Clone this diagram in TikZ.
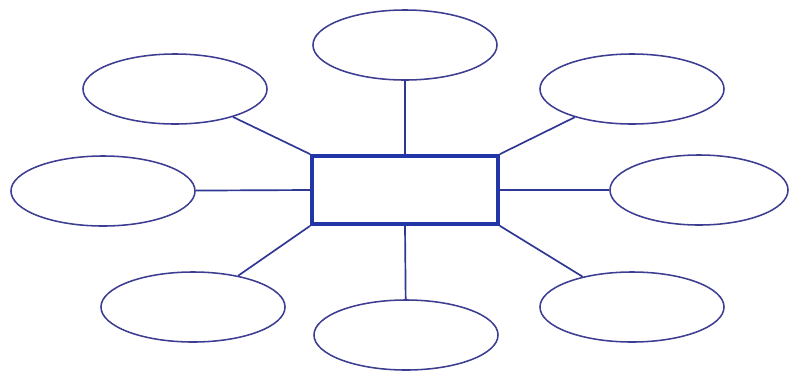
\documentclass[tikz,border=0pt]{standalone}
\usepackage{xcolor}
\usepackage{tikz}
\usetikzlibrary{shapes.geometric, positioning}
\definecolor{hubblue}{HTML}{2236A8}
\definecolor{ringblue}{HTML}{3D3D92}
\definecolor{spokeblue}{HTML}{2E3894}

\begin{document}
\begin{tikzpicture}[
  x=0.025cm, y=-0.025cm,
  hub/.style={rectangle, draw=hubblue, line width=2.6pt, fill=white,
              minimum width=4.65cm, minimum height=1.7cm, inner sep=0pt},
  leaf/.style={ellipse, draw=ringblue, line width=1.1pt, fill=white,
               minimum width=4.6cm, minimum height=1.75cm, inner sep=0pt},
  spoke/.style={draw=spokeblue, line width=1.2pt},
]
\useasboundingbox (0,0) rectangle (789,370);
\node[hub]  (centre) at (405,190) {};
\node[leaf] (top)    at (405,45)  {};
\node[leaf] (upleft) at (175,89)  {};
\node[leaf] (upright) at (632,89) {};
\node[leaf] (left)   at (103,191) {};
\node[leaf, minimum width=4.45cm] (right) at (699,190) {};
\node[leaf] (lowleft) at (193,307) {};
\node[leaf] (bottom) at (406,335) {};
\node[leaf] (lowright) at (632,307) {};
\draw[spoke] (top)      -- (centre.north);
\draw[spoke] (upleft)   -- (centre.north west);
\draw[spoke] (upright)  -- (centre.north east);
\draw[spoke] (left)     -- (centre.west);
\draw[spoke] (right)    -- (centre.east);
\draw[spoke] (lowleft)  -- (centre.south west);
\draw[spoke] (bottom)   -- (centre.south);
\draw[spoke] (lowright) -- (centre.south east);
\end{tikzpicture}
\end{document}
